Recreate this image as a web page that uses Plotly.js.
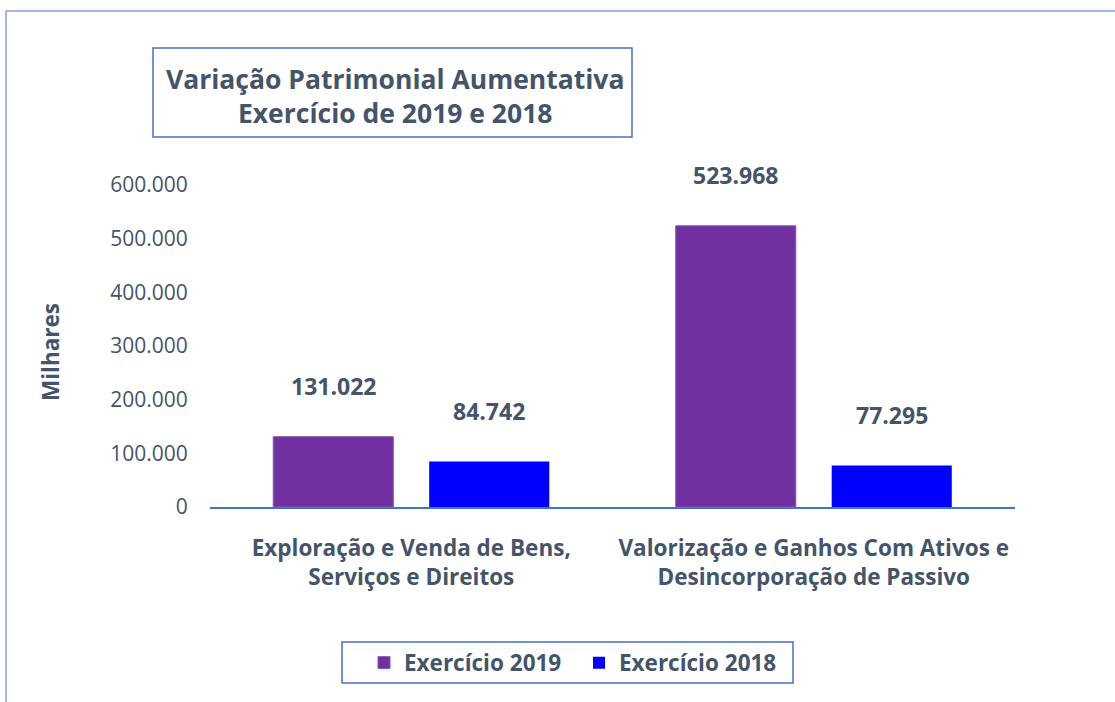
<!DOCTYPE html>
<html>
<head>
<meta charset="utf-8">
<script src="https://cdn.plot.ly/plotly-3.0.1.min.js"></script>
<style>
html,body{margin:0;padding:0;background:#fff;}
#chart{width:1115px;height:702px;}
</style>
</head>
<body>
<div id="chart"></div>
<script>
const categories = ["Exploração e Venda de Bens,<br>Serviços e Direitos", "Valorização e Ganhos Com Ativos e<br>Desincorporação de Passivo"];
const series2019 = [131022, 523968];
const series2018 = [84742, 77295];
const seriesNames = ["Exercício 2019", "Exercício 2018"];
const yTicks = [0, 100000, 200000, 300000, 400000, 500000, 600000];

const W = 1115, H = 702;
const M = {l: 210, r: 100, t: 185, b: 195};
const PW = W - M.l - M.r, PH = H - M.t - M.b;
const px = x => (x - M.l) / PW;
const py = y => (H - M.b - y) / PH;

const txt = '#44546A';
const frame = '#4472C4';
const font = 'Open Sans, Lato, sans-serif';

function fmt(v){ return v.toLocaleString('de-DE'); }

const bargap = 0.225, bargroupgap = 0.23;
// offset of each bar centre from category centre in pixels
const catW = PW / categories.length;
const slot = catW * (1 - bargap) / 2;
const offs = [-slot / 2, slot / 2];

const traces = [
  {type: 'bar', name: seriesNames[0], x: categories, y: series2019, marker: {color: '#7030A0', line: {color: '#8457B0', width: 1}}, hoverinfo: 'none'},
  {type: 'bar', name: seriesNames[1], x: categories, y: series2018, marker: {color: '#0000FF'}, hoverinfo: 'none'}
];

const annotations = [];
[series2019, series2018].forEach((s, si) => {
  s.forEach((v, ci) => {
    annotations.push({x: categories[ci], y: v, xref: 'x', yref: 'y', text: '<b>' + fmt(v) + '</b>', showarrow: false,
      xshift: offs[si], yshift: 51, yanchor: 'middle', font: {family: font, size: 23, color: txt}});
  });
});
annotations.push({xref: 'paper', yref: 'paper', x: px(395), y: py(96), xanchor: 'center', yanchor: 'middle',
  text: '<b>Variação Patrimonial Aumentativa<br>Exercício de 2019 e 2018</b>', showarrow: false,
  font: {family: font, size: 26.5, color: txt}});
annotations.push({xref: 'paper', yref: 'paper', x: px(50), y: py(352), xanchor: 'center', yanchor: 'middle', textangle: -90,
  text: '<b>Milhares</b>', showarrow: false, font: {family: font, size: 22.5, color: txt}});

const shapes = [
  {type: 'rect', xref: 'paper', yref: 'paper', x0: px(153), x1: px(632), y0: py(137), y1: py(48), line: {color: frame, width: 1.5}},
  {type: 'rect', xref: 'paper', yref: 'paper', x0: px(342), x1: px(793), y0: py(683), y1: py(642), line: {color: frame, width: 1.5}},
  {type: 'line', xref: 'paper', yref: 'paper', x0: px(6), x1: px(1115), y0: py(11), y1: py(11), line: {color: frame, width: 1}},
  {type: 'line', xref: 'paper', yref: 'paper', x0: px(6), x1: px(6), y0: py(11), y1: py(702), line: {color: frame, width: 1}}
];

const layout = {
  width: W, height: H,
  margin: M,
  paper_bgcolor: '#fff', plot_bgcolor: '#fff',
  separators: ',.',
  barmode: 'group', bargap: bargap, bargroupgap: bargroupgap,
  showlegend: true,
  legend: {orientation: 'h', x: px(364), y: py(663), xanchor: 'left', yanchor: 'middle',
    font: {family: font, size: 22.5, color: txt, weight: 'bold'}, entrywidth: 170, entrywidthmode: 'pixels',
    bgcolor: 'rgba(0,0,0,0)'},
  xaxis: {type: 'category', showline: true, linecolor: frame, linewidth: 1.5, showgrid: false, zeroline: false,
    ticks: 'outside', ticklen: 20, tickcolor: 'rgba(0,0,0,0)',
    tickfont: {family: font, size: 22.5, color: txt, weight: 'bold'}},
  yaxis: {range: [0, 600000], tickvals: yTicks, tickformat: ',', showline: false, showgrid: false, zeroline: false,
    ticks: 'outside', ticklen: 17, tickcolor: 'rgba(0,0,0,0)',
    tickfont: {family: font, size: 21, color: txt}},
  annotations: annotations,
  shapes: shapes
};

Plotly.newPlot('chart', traces, layout, {displayModeBar: false, staticPlot: true});
</script>
</body>
</html>
